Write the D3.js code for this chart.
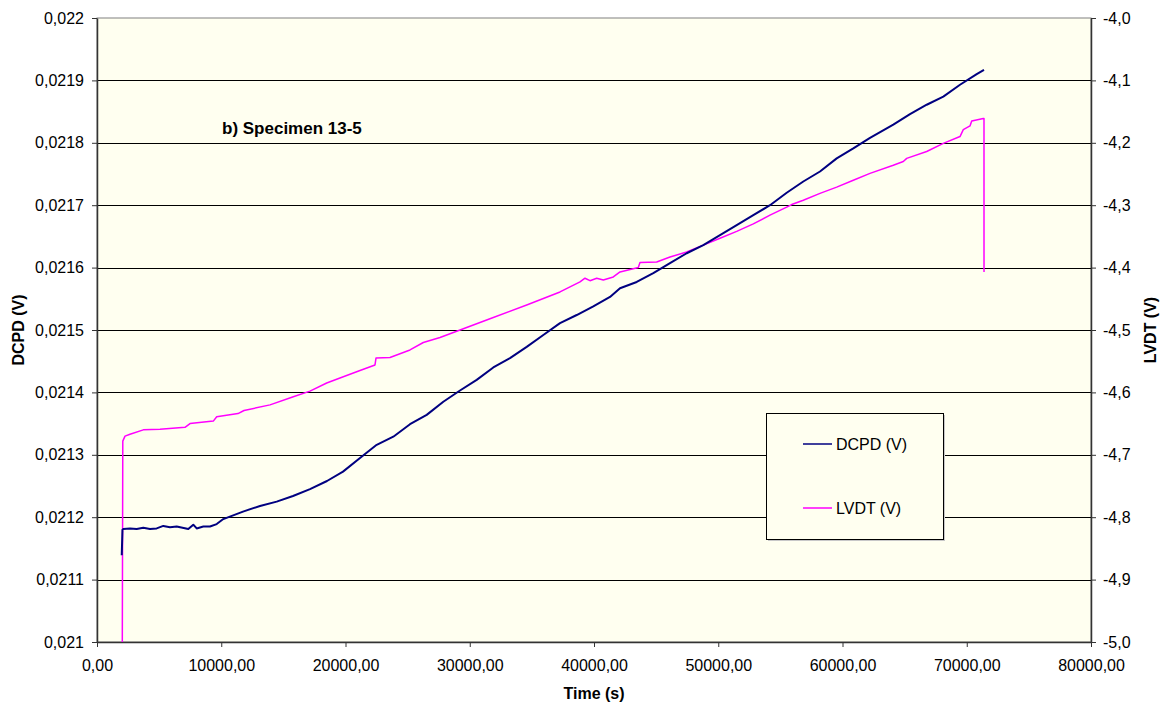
<!DOCTYPE html>
<html lang="en">
<head>
<meta charset="utf-8">
<title>Specimen 13-5</title>
<script src="https://d3js.org/d3.v7.min.js"></script>
<style>
  body { margin: 0; background: white; }
  text { font-family: "Liberation Sans", Arial, sans-serif; fill: #000; }
  .tick-label { font-size: 16px; }
  .axis-title { font-size: 16px; font-weight: bold; }
</style>
</head>
<body>
<div id="chart"></div>
<script>
// DCPD series (time in s, voltage in V)
var dcpdTime = [1990, 2050, 2117, 2656, 3195, 3726, 4266, 4805, 5336, 5875, 6414, 7348, 7750, 8024, 8555, 9094, 9634, 10165,
  11751, 13119, 14463, 15775, 17143, 18511, 19799, 21167, 22511, 23847, 25191, 26535, 27871, 29215, 30559, 31895,
  33239, 34584, 35920, 37264, 38608, 39944, 41288, 42093, 43437, 44773, 46117, 47461, 48797, 50141, 51485, 52821,
  54165, 55509, 56845, 58189, 59533, 60869, 62213, 64088, 65433, 66777, 68113, 69457, 70801, 71388];
var dcpdValue = [0.021139, 0.02118, 0.021181, 0.021182, 0.021181, 0.021183, 0.021181, 0.021182, 0.021186, 0.021184, 0.021185, 0.021181, 0.021188, 0.021182, 0.021185, 0.021185, 0.021189, 0.021197,
  0.021209, 0.021218, 0.021225, 0.021234, 0.021245, 0.021258, 0.021273, 0.021295, 0.021316, 0.021329, 0.021349, 0.021364, 0.021385, 0.021403, 0.02142, 0.02144,
  0.021455, 0.021473, 0.021492, 0.021511, 0.021524, 0.021538, 0.021553, 0.021567, 0.021577, 0.021591, 0.021607, 0.021623, 0.021636, 0.021652, 0.021668, 0.021684,
  0.0217, 0.02172, 0.021738, 0.021754, 0.021775, 0.021791, 0.021808, 0.021829, 0.021846, 0.021861, 0.021874, 0.021893, 0.02191, 0.021917];

// LVDT series (time in s, voltage in V)
var lvdtTime = [2036, 2076, 2254, 2656, 3726, 5070, 7082, 7485, 9360, 9634, 11348, 11831, 13924, 15799, 17143, 18487, 19823,
  21167, 22374, 22455, 23581, 25191, 26262, 27606, 29215, 31895, 34584, 37264, 38873, 39276, 39678, 40217, 40748, 41553,
  42093, 43565, 43702, 45046, 46117, 47461, 48797, 50141, 51485, 52821, 54165, 55509, 55911, 56845, 58189, 59533, 60869,
  62213, 64088, 64893, 65167, 66777, 68113, 69457, 69722, 70262, 70398, 71332, 71388, 71390];
var lvdtValue = [-5.0, -4.678, -4.67, -4.667, -4.66, -4.659, -4.656, -4.65, -4.646, -4.639, -4.634, -4.629, -4.62, -4.607, -4.598, -4.585, -4.575,
  -4.565, -4.556, -4.545, -4.544, -4.532, -4.52, -4.512, -4.5, -4.48, -4.46, -4.439, -4.423, -4.417, -4.421, -4.417, -4.42, -4.415,
  -4.407, -4.4, -4.392, -4.391, -4.383, -4.375, -4.364, -4.353, -4.342, -4.33, -4.316, -4.303, -4.299, -4.292, -4.281, -4.271, -4.26,
  -4.249, -4.236, -4.23, -4.225, -4.214, -4.201, -4.19, -4.179, -4.173, -4.165, -4.161, -4.161, -4.407];

var xTicks = [0, 10000, 20000, 30000, 40000, 50000, 60000, 70000, 80000];
var leftTicks = [0.021, 0.0211, 0.0212, 0.0213, 0.0214, 0.0215, 0.0216, 0.0217, 0.0218, 0.0219, 0.022];
var rightTicks = [-5.0, -4.9, -4.8, -4.7, -4.6, -4.5, -4.4, -4.3, -4.2, -4.1, -4.0];
var seriesNames = ["DCPD (V)", "LVDT (V)"];
var seriesColors = ["#000080", "#ff00ff"];

var w = 1162, h = 706;
// plot area edges (note: "top" is reserved on window, so use own names)
var plotL = 97, plotR = 1091, plotT = 18, plotB = 642;

var locale = d3.formatLocale({decimal: ",", thousands: "", grouping: [3], currency: ["", ""], minus: "-"});
var fmtX = locale.format(".2f");
var fmtL = locale.format(".4~f");
var fmtR = locale.format(".1f");

var svg = d3.select("#chart").append("svg").attr("width", w).attr("height", h);

var x = d3.scaleLinear().domain([0, 80000]).range([plotL, plotR]);
var yL = d3.scaleLinear().domain([0.021, 0.022]).range([plotB, plotT]);
var yR = d3.scaleLinear().domain([-5.0, -4.0]).range([plotB, plotT]);

// plot area
svg.append("rect").attr("x", plotL).attr("y", plotT).attr("width", plotR - plotL).attr("height", plotB - plotT)
  .attr("fill", "#fffff0").attr("stroke", "#808080").attr("stroke-width", 1);

// gridlines
svg.append("g").selectAll("line").data(leftTicks.slice(1, -1)).enter().append("line")
  .attr("x1", plotL).attr("x2", plotR)
  .attr("y1", function(d) { return Math.round(yL(d)) + 0.5; })
  .attr("y2", function(d) { return Math.round(yL(d)) + 0.5; })
  .attr("stroke", "#000").attr("stroke-width", 1);

// axes
var xAxis = d3.axisBottom(x).tickValues(xTicks).tickFormat(fmtX).tickSizeInner(5).tickSizeOuter(0).tickPadding(13);
var lAxis = d3.axisLeft(yL).tickValues(leftTicks).tickFormat(fmtL).tickSizeInner(5).tickSizeOuter(0).tickPadding(8);
var rAxis = d3.axisRight(yR).tickValues(rightTicks).tickFormat(fmtR).tickSizeInner(5).tickSizeOuter(0).tickPadding(7);

function styleAxis(g) {
  g.attr("font-family", null).attr("font-size", null);
  g.select(".domain").attr("stroke", "#333").attr("stroke-width", 1.5);
  g.selectAll(".tick line").attr("stroke", "#333");
  g.selectAll(".tick text").attr("class", "tick-label");
}
svg.append("g").attr("transform", "translate(0," + plotB + ")").call(xAxis).call(styleAxis);
svg.append("g").attr("transform", "translate(" + plotL + ",0)").call(lAxis).call(styleAxis);
svg.append("g").attr("transform", "translate(" + plotR + ",0)").call(rAxis).call(styleAxis);

// lines
var dcpd = dcpdTime.map(function(t, i) { return [t, dcpdValue[i]]; });
var lvdt = lvdtTime.map(function(t, i) { return [t, lvdtValue[i]]; });

var dcpdLine = d3.line().x(function(d) { return x(d[0]); }).y(function(d) { return yL(d[1]); });
var lvdtLine = d3.line().x(function(d) { return x(d[0]); }).y(function(d) { return yR(d[1]); });

svg.append("path").datum(lvdt).attr("d", lvdtLine).attr("fill", "none")
  .attr("stroke", seriesColors[1]).attr("stroke-width", 1.5).attr("stroke-linejoin", "round");
svg.append("path").datum(dcpd).attr("d", dcpdLine).attr("fill", "none")
  .attr("stroke", seriesColors[0]).attr("stroke-width", 2).attr("stroke-linejoin", "round");

// titles
svg.append("text").attr("x", 222).attr("y", 134).attr("font-size", 17).attr("font-weight", "bold")
  .text("b) Specimen 13-5");
svg.append("text").attr("class", "axis-title").attr("text-anchor", "middle")
  .attr("x", (plotL + plotR) / 2).attr("y", 699).text("Time (s)");
svg.append("text").attr("class", "axis-title").attr("text-anchor", "middle")
  .attr("transform", "translate(24," + (plotT + plotB) / 2 + ") rotate(-90)").text("DCPD (V)");
svg.append("text").attr("class", "axis-title").attr("text-anchor", "middle")
  .attr("transform", "translate(1156," + (plotT + plotB) / 2 + ") rotate(-90)").text("LVDT (V)");

// legend
var lg = svg.append("g").attr("transform", "translate(766,413)");
lg.append("rect").attr("x", 2).attr("y", 2).attr("width", 177).attr("height", 126).attr("fill", "#c8c8c8");
lg.append("rect").attr("x", 0.5).attr("y", 0.5).attr("width", 177).attr("height", 126)
  .attr("fill", "#fffff0").attr("stroke", "#000").attr("stroke-width", 1);
var items = lg.selectAll("g.item").data(seriesNames).enter().append("g").attr("class", "item")
  .attr("transform", function(d, i) { return "translate(0," + (31 + i * 64) + ")"; });
items.append("line").attr("x1", 37).attr("x2", 66).attr("y1", 0).attr("y2", 0)
  .attr("stroke", function(d, i) { return seriesColors[i]; }).attr("stroke-width", 1.5);
items.append("text").attr("x", 70).attr("y", 6).attr("font-size", 16).text(function(d) { return d; });
</script>
</body>
</html>
